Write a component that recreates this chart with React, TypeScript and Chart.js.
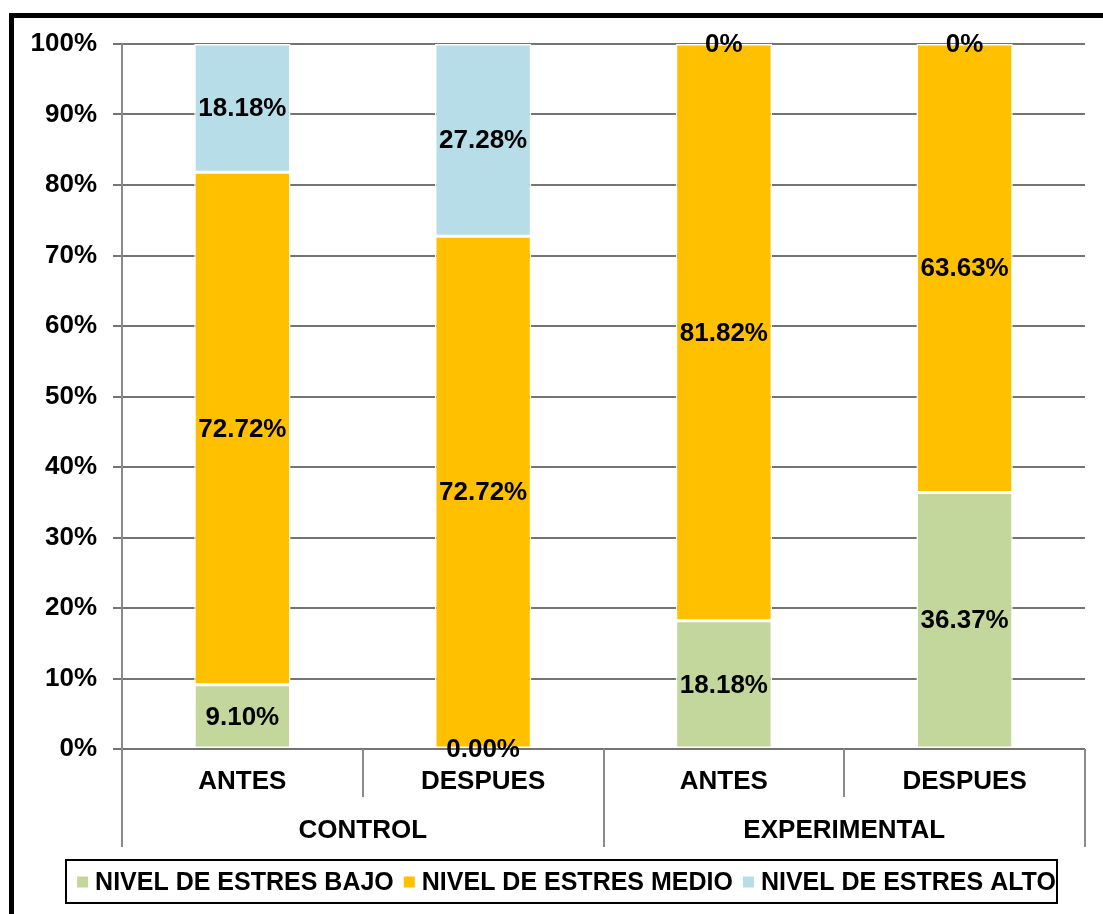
import React, { useEffect, useRef } from "react";
import { Chart, registerables } from "chart.js";

Chart.register(...registerables);

// Subcategories (x axis, inner level) and their outer groups
const categories = ["ANTES", "DESPUES", "ANTES", "DESPUES"];
const groups = ["CONTROL", "EXPERIMENTAL"];
const groupSize = 2;

// Percentage of students per stress level
const bajo = [9.1, 0.0, 18.18, 36.37];
const medio = [72.72, 72.72, 81.82, 63.63];
const alto = [18.18, 27.28, 0, 0];

const seriesNames = ["NIVEL DE ESTRES BAJO", "NIVEL DE ESTRES MEDIO", "NIVEL DE ESTRES ALTO"];
const seriesColors = ["#C3D69B", "#FFC000", "#B7DDE8"];

const yMin = 0;
const yMax = 100;
const yStep = 10;

const FONT = '"Liberation Sans", Arial, Helvetica, sans-serif';

function formatLabel(datasetIndex: number, v: number): string {
  if (datasetIndex === 2 && v === 0) return "0%";
  return v.toFixed(2) + "%";
}

const decorations = {
  id: "decorations",
  beforeDraw(chart: any) {
    const ctx = chart.ctx;
    ctx.save();
    ctx.fillStyle = "#fff";
    ctx.fillRect(0, 0, chart.width, chart.height);
    // frame (top and left edges)
    ctx.fillStyle = "#000";
    ctx.fillRect(9, 13, chart.width, 5);
    ctx.fillRect(9, 13, 5, chart.height);
    ctx.restore();
  },
  afterDatasetsDraw(chart: any) {
    const ctx = chart.ctx;
    ctx.save();
    ctx.font = `bold 26px ${FONT}`;
    ctx.fillStyle = "#000";
    ctx.textAlign = "center";
    ctx.textBaseline = "middle";
    chart.data.datasets.forEach((ds: any, di: number) => {
      const meta = chart.getDatasetMeta(di);
      meta.data.forEach((bar: any, i: number) => {
        const v = ds.data[i];
        const cy = (bar.y + bar.base) / 2;
        ctx.fillText(formatLabel(di, v), bar.x, cy + 1);
      });
    });
    ctx.restore();
  },
  afterDraw(chart: any) {
    const ctx = chart.ctx;
    const xs = chart.scales.x;
    const area = chart.chartArea;
    const catW = (area.right - area.left) / categories.length;
    const bottom = area.bottom;
    ctx.save();

    // divider lines of the two-level axis
    ctx.strokeStyle = "#8a8a8a";
    ctx.lineWidth = 2;
    for (let i = 0; i <= categories.length; i++) {
      const x = Math.round(xs.getPixelForValue(0) - catW / 2 + i * catW);
      const isGroupEdge = i % groupSize === 0;
      const yEnd = isGroupEdge ? bottom + 98 : bottom + 48;
      ctx.beginPath();
      ctx.moveTo(x, bottom);
      ctx.lineTo(x, yEnd);
      ctx.stroke();
    }

    ctx.fillStyle = "#000";
    ctx.textAlign = "center";
    ctx.textBaseline = "middle";
    ctx.font = `bold 26px ${FONT}`;
    categories.forEach((c, i) => {
      ctx.fillText(c, xs.getPixelForValue(i), bottom + 33);
    });
    groups.forEach((g, gi) => {
      const a = xs.getPixelForValue(gi * groupSize);
      const b = xs.getPixelForValue(gi * groupSize + groupSize - 1);
      ctx.fillText(g, (a + b) / 2, bottom + 82);
    });

    // legend
    const boxL = 66, boxT = 860, boxR = 1057, boxB = 903;
    ctx.strokeStyle = "#000";
    ctx.lineWidth = 2;
    ctx.strokeRect(boxL, boxT, boxR - boxL, boxB - boxT);
    ctx.font = `bold 25px ${FONT}`;
    ctx.textAlign = "left";
    const sq = 11;
    const gapText = 7;
    const gapItem = 10;
    const widths = seriesNames.map((n) => ctx.measureText(n).width);
    let total = 0;
    widths.forEach((w, i) => {
      total += sq + gapText + w + (i < widths.length - 1 ? gapItem : 0);
    });
    let x = (boxL + boxR) / 2 + 5 - total / 2;
    const cy = 882;
    seriesNames.forEach((n, i) => {
      ctx.fillStyle = seriesColors[i];
      ctx.fillRect(x, cy - sq / 2, sq, sq);
      x += sq + gapText;
      ctx.fillStyle = "#000";
      ctx.fillText(n, x, cy + 1);
      x += widths[i] + gapItem;
    });
    ctx.restore();
  },
};

export default function App() {
  const ref = useRef<HTMLCanvasElement>(null);

  useEffect(() => {
    if (!ref.current) return;
    const values = [bajo, medio, alto];
    const chart = new Chart(ref.current, {
      type: "bar",
      data: {
        labels: categories,
        datasets: seriesNames.map((name, i) => ({
          label: name,
          data: values[i],
          backgroundColor: seriesColors[i],
          borderColor: "#ffffff",
          borderWidth: 1.5,
          borderSkipped: false,
          categoryPercentage: 1,
          barPercentage: 0.4,
        })),
      },
      options: {
        responsive: false,
        animation: false,
        devicePixelRatio: 1,
        layout: { padding: { left: 0, right: 18, top: 44, bottom: 165 } },
        plugins: {
          legend: { display: false },
          tooltip: { enabled: false },
          title: { display: false },
        },
        scales: {
          x: {
            stacked: true,
            display: false,
          },
          y: {
            stacked: true,
            min: yMin,
            max: yMax,
            afterFit: (scale: any) => {
              scale.width = 122;
            },
            ticks: {
              stepSize: yStep,
              padding: 16,
              color: "#000",
              font: { family: FONT, size: 26, weight: "bold" },
              callback: (v: any) => v + "%",
            },
            grid: {
              color: "#747474",
              lineWidth: 2,
              tickLength: 9,
              drawTicks: true,
            },
            border: { display: true, color: "#8a8a8a", width: 2 },
          },
        },
      },
      plugins: [decorations],
    });
    return () => chart.destroy();
  }, []);

  return (
    <div style={{ position: "fixed", left: 0, top: 0, width: 1103, height: 914, background: "#fff" }}>
      <canvas ref={ref} width={1103} height={914} />
    </div>
  );
}
